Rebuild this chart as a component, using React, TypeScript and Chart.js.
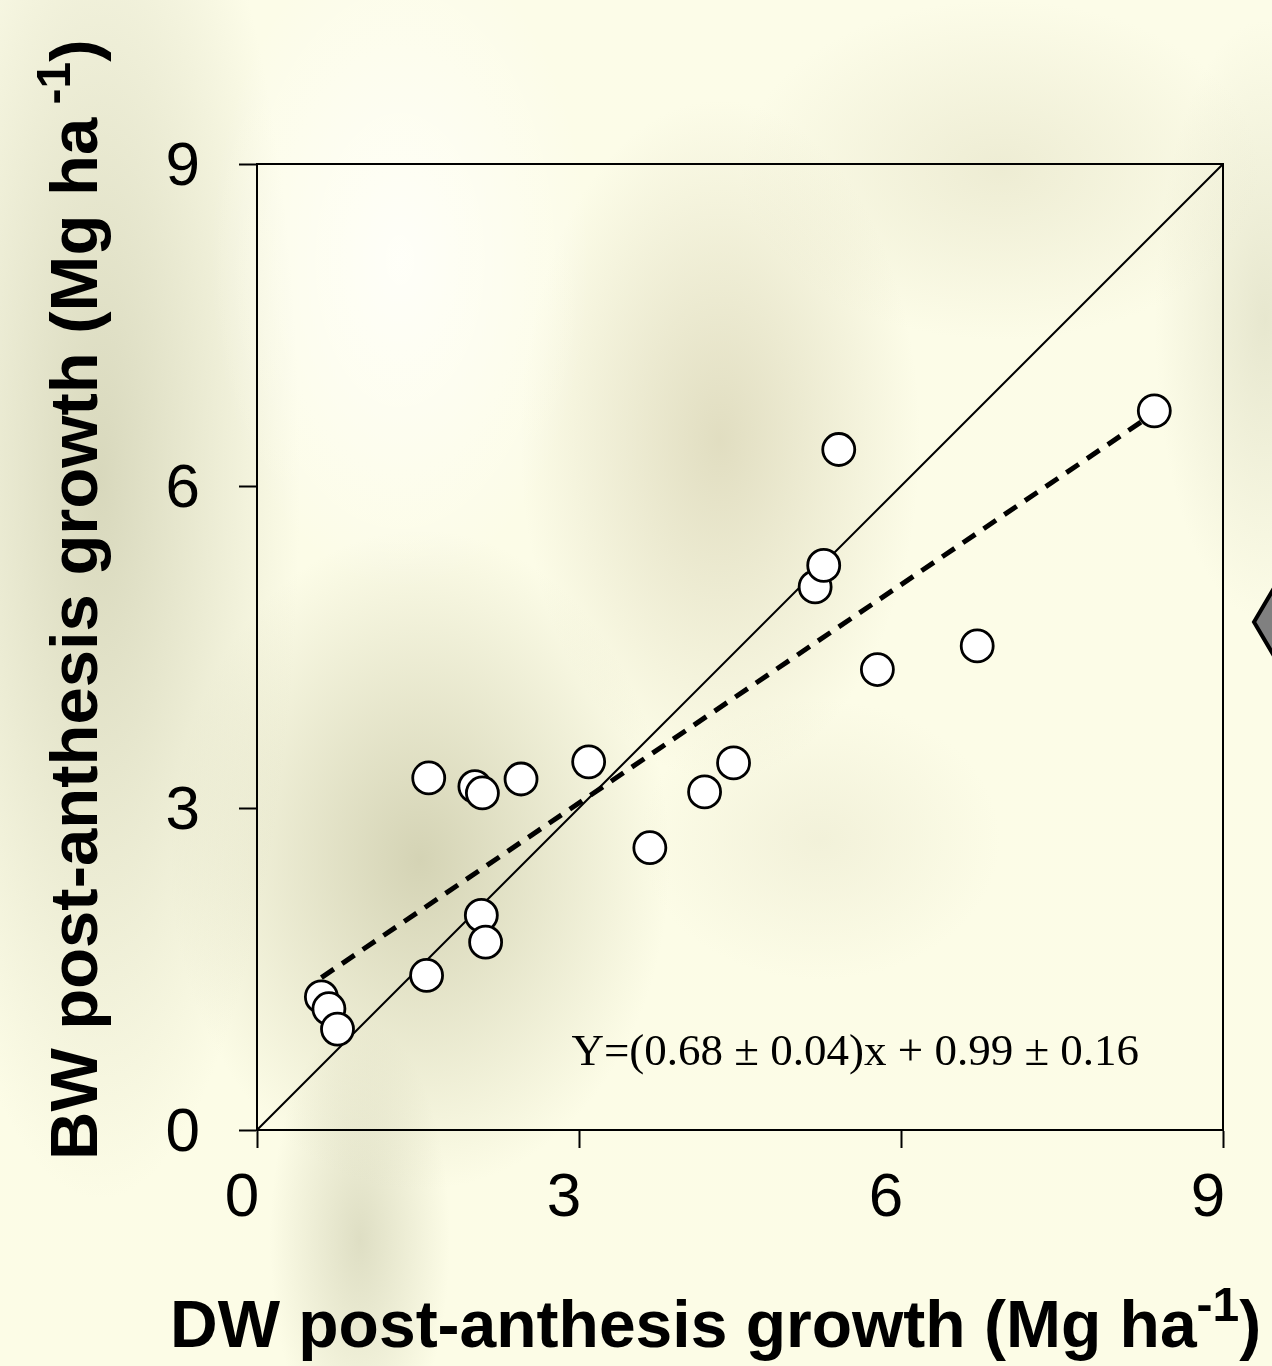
import React, { useEffect, useRef } from "react";
import { Chart, registerables } from "chart.js";

Chart.register(...registerables);

// DW post-anthesis growth (x) vs BW post-anthesis growth (y), Mg ha-1
const dwGrowth = [0.6, 0.67, 0.75, 1.58, 1.6, 2.03, 2.1, 2.46, 2.09, 2.13, 3.09, 3.66, 4.17, 4.44, 5.2, 5.28, 5.42, 5.78, 6.71, 8.36];
const bwGrowth = [1.24, 1.13, 0.94, 1.44, 3.28, 3.2, 3.14, 3.27, 2.0, 1.75, 3.43, 2.63, 3.15, 3.42, 5.06, 5.26, 6.34, 4.29, 4.51, 6.7];

// 1:1 line
const oneToOneX = [0, 9];
const oneToOneY = [0, 9];

// fitted regression line (end points)
const fitX = [0.6, 8.36];
const fitY = [1.42, 6.68];

const tickValues = [0, 3, 6, 9];
const axisMin = 0;
const axisMax = 9;

const equationText = "Y=(0.68 \u00b1 0.04)x + 0.99 \u00b1 0.16";
const equationPos = { x: 2.93, y: 0.61 };

const xTitleMain = "DW post-anthesis growth (Mg ha";
const xTitleSup = "-1";
const xTitleEnd = ")";
const yTitleMain = "BW post-anthesis growth (Mg ha";
const yTitleSup = " -1";
const yTitleEnd = ")";

const SANS = '"Liberation Sans", Arial, Helvetica, sans-serif';
const SERIF = '"Liberation Serif", "Times New Roman", Times, serif';

const decorPlugin = {
  id: "decor",
  afterDatasetsDraw(chart: any) {
    const { ctx, chartArea } = chart;
    ctx.save();
    ctx.strokeStyle = "#000";
    ctx.lineWidth = 2;
    ctx.beginPath();
    ctx.moveTo(chartArea.left, chartArea.top);
    ctx.lineTo(chartArea.right, chartArea.top);
    ctx.lineTo(chartArea.right, chartArea.bottom);
    ctx.stroke();
    ctx.restore();
  },
  afterDraw(chart: any) {
    const { ctx, scales } = chart;
    const xs = scales.x;
    const ys = scales.y;
    ctx.save();
    ctx.fillStyle = "#000";
    ctx.font = `45px ${SERIF}`;
    ctx.textBaseline = "alphabetic";
    ctx.textAlign = "left";
    ctx.fillText(equationText, xs.getPixelForValue(equationPos.x), ys.getPixelForValue(equationPos.y));

    const drawTitle = (main: string, sup: string, end: string, size: number) => {
      ctx.font = `bold ${size}px ${SANS}`;
      ctx.fillText(main, 0, 0);
      let w = ctx.measureText(main).width;
      ctx.font = `bold ${Math.round(size * 0.72)}px ${SANS}`;
      ctx.fillText(sup, w, -size * 0.4);
      w += ctx.measureText(sup).width;
      ctx.font = `bold ${size}px ${SANS}`;
      ctx.fillText(end, w, 0);
    };
    ctx.save();
    ctx.translate(170, 1347);
    drawTitle(xTitleMain, xTitleSup, xTitleEnd, 66);
    ctx.restore();

    ctx.save();
    ctx.translate(97, 1160);
    ctx.rotate(-Math.PI / 2);
    drawTitle(yTitleMain, yTitleSup, yTitleEnd, 67);
    ctx.restore();

    // partial grey arrow at right edge
    ctx.beginPath();
    ctx.moveTo(1254, 622);
    ctx.lineTo(1280, 578);
    ctx.lineTo(1280, 666);
    ctx.closePath();
    ctx.fillStyle = "#808080";
    ctx.fill();
    ctx.lineWidth = 4;
    ctx.strokeStyle = "#000";
    ctx.stroke();
    ctx.restore();
  },
};

export default function App() {
  const ref = useRef<HTMLCanvasElement | null>(null);

  useEffect(() => {
    if (!ref.current) return;
    const points = dwGrowth.map((x, i) => ({ x, y: bwGrowth[i] }));
    const oneToOne = oneToOneX.map((x, i) => ({ x, y: oneToOneY[i] }));
    const fit = fitX.map((x, i) => ({ x, y: fitY[i] }));

    const chart = new Chart(ref.current, {
      type: "scatter",
      data: {
        datasets: [
          {
            label: "data",
            data: points,
            order: 0,
            pointRadius: 16,
            pointHoverRadius: 16,
            pointBackgroundColor: "#ffffff",
            pointBorderColor: "#000000",
            pointBorderWidth: 2.8,
            showLine: false,
          },
          {
            label: "1:1",
            data: oneToOne,
            order: 2,
            showLine: true,
            borderColor: "#000",
            borderWidth: 2,
            pointRadius: 0,
            fill: false,
          },
          {
            label: "fit",
            data: fit,
            order: 1,
            showLine: true,
            borderColor: "#000",
            borderWidth: 5,
            borderDash: [15, 10],
            pointRadius: 0,
            fill: false,
          },
        ],
      },
      options: {
        animation: false,
        responsive: false,
        maintainAspectRatio: false,
        devicePixelRatio: 1,
        layout: { padding: { top: 164, right: 49, left: 0, bottom: 0 } },
        plugins: {
          legend: { display: false },
          tooltip: { enabled: false },
          title: { display: false },
        },
        scales: {
          x: {
            type: "linear",
            min: axisMin,
            max: axisMax,
            afterFit: (s: any) => {
              s.height = 236;
            },
            afterBuildTicks: (s: any) => {
              s.ticks = tickValues.map((v) => ({ value: v }));
            },
            ticks: {
              color: "#000",
              font: { size: 62, family: SANS },
              padding: 14,
              labelOffset: -15,
              maxRotation: 0,
              autoSkip: false,
            },
            grid: {
              drawOnChartArea: false,
              drawTicks: true,
              tickLength: 18,
              tickColor: "#000",
              tickWidth: 2,
            },
            border: { display: true, color: "#000", width: 2 },
          },
          y: {
            type: "linear",
            min: axisMin,
            max: axisMax,
            afterFit: (s: any) => {
              s.width = 257;
            },
            afterBuildTicks: (s: any) => {
              s.ticks = tickValues.map((v) => ({ value: v }));
            },
            ticks: {
              color: "#000",
              font: { size: 62, family: SANS },
              padding: 39,
              labelOffset: 4,
              autoSkip: false,
            },
            grid: {
              drawOnChartArea: false,
              drawTicks: true,
              tickLength: 18,
              tickColor: "#000",
              tickWidth: 2,
            },
            border: { display: true, color: "#000", width: 2 },
          },
        },
      },
      plugins: [decorPlugin],
    });
    return () => chart.destroy();
  }, []);

  const bg = [
    "radial-gradient(ellipse 190px 330px at 400px 260px, rgba(255,255,250,0.9), rgba(255,255,250,0) 100%)",
    "radial-gradient(ellipse 200px 720px at 100px 480px, rgba(214,214,186,0.95), rgba(214,214,186,0) 100%)",
    "radial-gradient(ellipse 250px 330px at 420px 860px, rgba(210,209,178,0.95), rgba(210,209,178,0) 100%)",
    "radial-gradient(ellipse 200px 340px at 720px 440px, rgba(220,216,186,0.85), rgba(220,216,186,0) 100%)",
    "radial-gradient(ellipse 260px 170px at 1000px 170px, rgba(228,226,198,0.6), rgba(228,226,198,0) 100%)",
    "radial-gradient(ellipse 110px 300px at 1265px 320px, rgba(222,222,196,0.7), rgba(222,222,196,0) 100%)",
    "radial-gradient(ellipse 90px 220px at 360px 1240px, rgba(212,212,184,0.75), rgba(212,212,184,0) 100%)",
    "radial-gradient(ellipse 180px 140px at 820px 840px, rgba(232,230,204,0.5), rgba(232,230,204,0) 100%)",
    "linear-gradient(#fcfce8, #fcfce6)",
  ].join(", ");

  return (
    <div
      style={{
        position: "absolute",
        left: 0,
        top: 0,
        width: 1272,
        height: 1366,
        background: bg,
        overflow: "hidden",
      }}
    >
      <canvas ref={ref} width={1272} height={1366} style={{ display: "block", width: 1272, height: 1366 }} />
    </div>
  );
}
